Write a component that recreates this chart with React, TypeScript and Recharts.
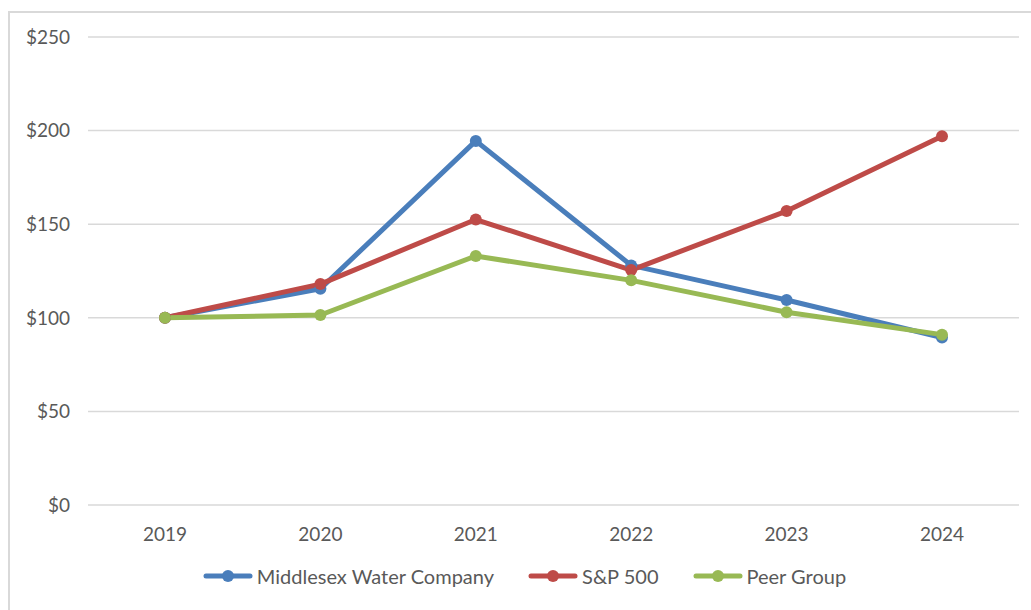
import React from "react";
import { LineChart, Line, XAxis, YAxis, CartesianGrid } from "recharts";

const years = ["2019", "2020", "2021", "2022", "2023", "2024"];
const middlesex = [100, 115.5, 194.5, 128, 109.5, 89.5];
const sp500 = [100, 118, 152.5, 125.5, 157, 197];
const peerGroup = [100, 101.5, 133, 120, 103, 91];
const yTicks = [0, 50, 100, 150, 200, 250];

const seriesInfo = [
  { key: "middlesex", name: "Middlesex Water Company", color: "#4A7EBB" },
  { key: "sp500", name: "S&P 500", color: "#BE4B48" },
  { key: "peer", name: "Peer Group", color: "#98B954" },
];

const data = years.map((y, i) => ({
  year: y,
  middlesex: middlesex[i],
  sp500: sp500[i],
  peer: peerGroup[i],
}));

const FONT = "Lato, 'Open Sans', sans-serif";
const TEXT = "#595959";

const LegendBox = () => (
  <div style={{ position: "absolute", left: 9, top: 564, width: 1031, display: "flex", justifyContent: "center", alignItems: "center", fontFamily: FONT, fontSize: 20, color: TEXT, lineHeight: "24px" }}>
    {seriesInfo.map((s, i) => (
      <div key={s.key} style={{ display: "flex", alignItems: "center", marginLeft: i === 0 ? 0 : 34 }}>
        <svg width={50} height={14} style={{ marginRight: 4 }}>
          <line x1={3} y1={7} x2={47} y2={7} stroke={s.color} strokeWidth={5} strokeLinecap="round" />
          <circle cx={25} cy={7} r={6} fill={s.color} />
        </svg>
        <span>{s.name}</span>
      </div>
    ))}
  </div>
);

export default function App() {
  return (
    <div style={{ position: "absolute", left: 0, top: 0, width: 1031, height: 610, background: "#fff", overflow: "hidden" }}>
      <div style={{ position: "absolute", left: 8, top: 11, width: 1100, height: 700, border: "2px solid #d9d9d9", boxSizing: "border-box" }} />
      <div style={{ position: "absolute", left: 0, top: 0 }}>
        <LineChart width={1031} height={610} data={data} margin={{ top: 37, right: 12, left: 0, bottom: 0 }}>
          <CartesianGrid vertical={false} stroke="#d9d9d9" strokeWidth={1.5} />
          <XAxis
            dataKey="year"
            axisLine={false}
            tickLine={false}
            padding={{ left: 77, right: 77 }}
            tick={{ fill: TEXT, fontSize: 19, fontFamily: FONT }}
            tickMargin={17}
            height={105}
          />
          <YAxis
            width={88}
            domain={[0, 250]}
            ticks={yTicks}
            axisLine={false}
            tickLine={false}
            tickMargin={12}
            tickFormatter={(v: number) => `$${v}`}
            tick={{ fill: TEXT, fontSize: 19, fontFamily: FONT }}
          />
          {seriesInfo.map((s) => (
            <Line
              key={s.key}
              dataKey={s.key}
              name={s.name}
              stroke={s.color}
              strokeWidth={5}
              strokeLinejoin="round"
              dot={{ r: 6, fill: s.color, stroke: s.color, strokeWidth: 0 }}
              activeDot={false}
              isAnimationActive={false}
            />
          ))}
        </LineChart>
      </div>
      <LegendBox />
    </div>
  );
}
